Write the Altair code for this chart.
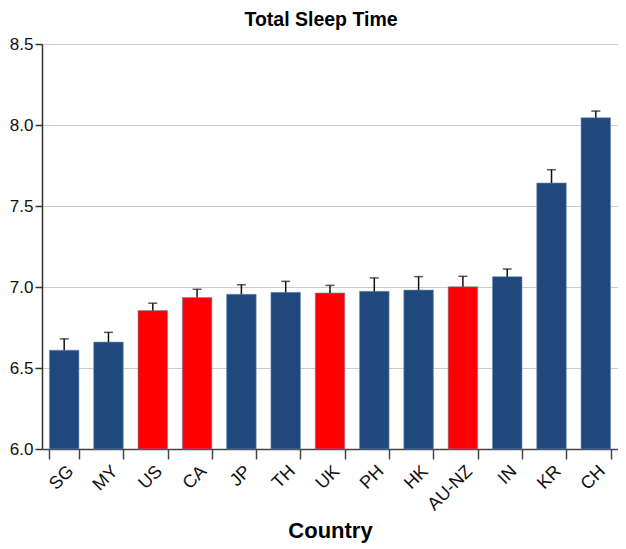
import altair as alt
import pandas as pd

countries = ["SG", "MY", "US", "CA", "JP", "TH", "UK", "PH", "HK", "AU-NZ", "IN", "KR", "CH"]
sleep = [6.61, 6.66, 6.855, 6.935, 6.955, 6.967, 6.963, 6.973, 6.981, 7.002, 7.064, 7.642, 8.045]
upper = [6.68, 6.72, 6.90, 6.986, 7.014, 7.035, 7.010, 7.056, 7.064, 7.066, 7.111, 7.724, 8.086]
group = ["Asia", "Asia", "West", "West", "Asia", "Asia", "West", "Asia", "Asia", "West", "Asia", "Asia", "Asia"]
y_ticks = [6.0, 6.5, 7.0, 7.5, 8.0, 8.5]

df = pd.DataFrame({"country": countries, "sleep": sleep, "upper": upper, "group": group})

FONT = "Liberation Sans"

x = alt.X(
    "country:N",
    sort=countries,
    scale=alt.Scale(paddingInner=0.333, paddingOuter=0.167),
    axis=alt.Axis(
        title="Country",
        titleFontSize=22,
        titleFontWeight="bold",
        titleColor="#000",
        titleFont=FONT,
        titlePadding=7,
        labelAngle=-45,
        labelFontSize=18,
        labelFont=FONT,
        labelColor="#111",
        labelPadding=3,
        tickBand="extent",
        tickSize=10,
        tickColor="#444",
        tickWidth=1.5,
        domainColor="#444",
        domainWidth=1.5,
        grid=False,
    ),
)

yscale = alt.Scale(domain=[6.0, 8.5], zero=False, nice=False)

bars = alt.Chart(df).mark_bar(stroke="#6d8fbf", strokeWidth=0.6).encode(
    x=x,
    y=alt.Y(
        "sleep:Q",
        scale=yscale,
        axis=alt.Axis(
            title=None,
            values=y_ticks,
            format=".1f",
            labelFontSize=17,
            labelFont=FONT,
            labelColor="#111",
            labelPadding=2,
            tickSize=7,
            tickColor="#333",
            tickWidth=1.5,
            domainColor="#333",
            domainWidth=1.5,
            grid=True,
            gridColor="#cccccc",
            gridWidth=1,
        ),
    ),
    y2=alt.datum(6.0),
    color=alt.Color(
        "group:N",
        scale=alt.Scale(domain=["Asia", "West"], range=["#1f497d", "#ff0000"]),
        legend=None,
    ),
)

rules = alt.Chart(df).mark_rule(color="#111", strokeWidth=1.5).encode(
    x=alt.X("country:N", sort=countries),
    y=alt.Y("sleep:Q", scale=yscale),
    y2="upper:Q",
)

caps = alt.Chart(df).mark_tick(color="#111", thickness=1.5, size=9, orient="horizontal").encode(
    x=alt.X("country:N", sort=countries),
    y=alt.Y("upper:Q", scale=yscale),
)

chart = (
    alt.layer(bars, rules, caps)
    .properties(
        width=576,
        height=405,
        title=alt.TitleParams(
            "Total Sleep Time",
            fontSize=19.5,
            fontWeight="bold",
            font=FONT,
            color="#000",
            anchor="middle",
            dx=-9,
            offset=5,
        ),
        autosize=alt.AutoSizeParams(type="none"),
        padding={"left": 34, "top": 36, "right": 0, "bottom": 100},
    )
    .configure_view(stroke=None)
)

chart.save("out.html", embed_options={"renderer": "svg", "actions": False})
